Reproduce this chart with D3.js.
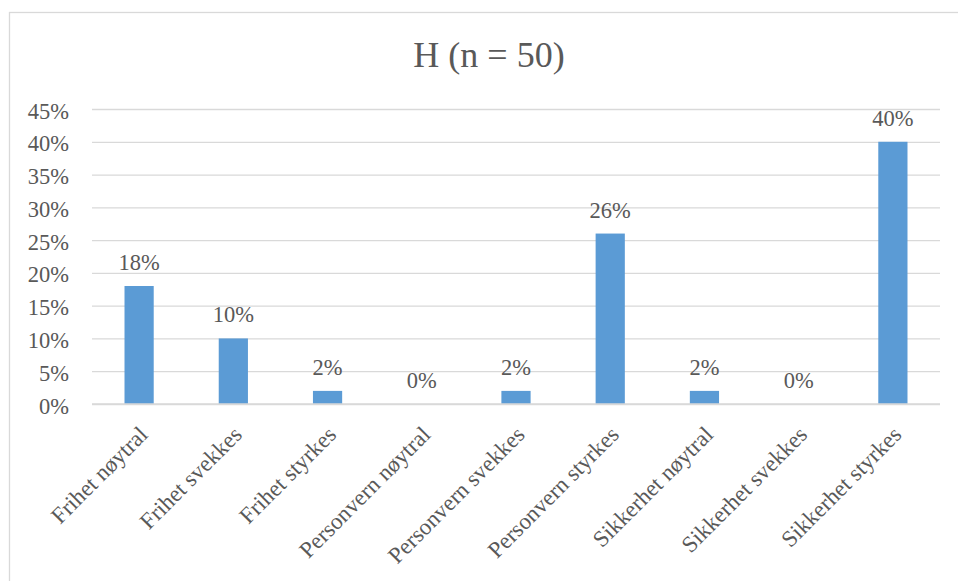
<!DOCTYPE html>
<html>
<head>
<meta charset="utf-8">
<script src="https://cdn.jsdelivr.net/npm/d3@7"></script>
<style>
  html, body { margin: 0; padding: 0; background: #fff; }
  svg { display: block; }
</style>
</head>
<body>
<script>
// Categories and their shares (percent) for group H
const categories = [
  "Frihet nøytral", "Frihet svekkes", "Frihet styrkes",
  "Personvern nøytral", "Personvern svekkes", "Personvern styrkes",
  "Sikkerhet nøytral", "Sikkerhet svekkes", "Sikkerhet styrkes"
];
const values = [18, 10, 2, 0, 2, 26, 2, 0, 40];
const yTicks = [0, 5, 10, 15, 20, 25, 30, 35, 40, 45];
const chartTitle = "H (n = 50)";

const W = 958, H = 581;
const margin = { left: 92, right: 18, top: 109, bottom: 177 };
const font = "'Liberation Serif', 'Times New Roman', serif";
const textColor = "#595959";
const gridColor = "#d9d9d9";
const barColor = "#5b9bd5";
const labelSize = 22.5;
const categorySize = 23;

const svg = d3.select("body").append("svg")
  .attr("width", W).attr("height", H);

// chart frame
svg.append("rect")
  .attr("x", 9.5).attr("y", 12.5)
  .attr("width", W + 20).attr("height", H + 20)
  .attr("fill", "#fff").attr("stroke", gridColor).attr("stroke-width", 1.3);

const x = d3.scaleBand()
  .domain(categories)
  .range([margin.left, W - margin.right])
  .paddingInner(0.69).paddingOuter(0.345);

const y = d3.scaleLinear()
  .domain([0, 45])
  .range([H - margin.bottom, margin.top]);

// title
svg.append("text")
  .attr("x", 489).attr("y", 67)
  .attr("text-anchor", "middle")
  .attr("font-family", font).attr("font-size", 36)
  .attr("fill", textColor)
  .text(chartTitle);

// gridlines and y labels
const yAxis = d3.axisLeft(y)
  .tickValues(yTicks)
  .tickFormat(d => d + "%")
  .tickSize(-(W - margin.right - margin.left))
  .tickPadding(23);

const gy = svg.append("g")
  .attr("transform", `translate(${margin.left},0)`)
  .call(yAxis);
gy.select(".domain").remove();
gy.selectAll(".tick line").attr("stroke", gridColor).attr("stroke-width", 1.3);
gy.selectAll(".tick text")
  .attr("font-family", font).attr("font-size", labelSize)
  .attr("dy", "0.4em")
  .attr("fill", textColor);

// bars
svg.append("g").selectAll("rect")
  .data(values)
  .join("rect")
  .attr("x", (d, i) => x(categories[i]))
  .attr("y", d => y(d))
  .attr("width", x.bandwidth())
  .attr("height", d => y(0) - y(d))
  .attr("fill", barColor);

// value labels
svg.append("g").selectAll("text")
  .data(values)
  .join("text")
  .attr("x", (d, i) => x(categories[i]) + x.bandwidth() / 2)
  .attr("y", d => y(d) - 16)
  .attr("text-anchor", "middle")
  .attr("font-family", font).attr("font-size", labelSize)
  .attr("fill", textColor)
  .text(d => d + "%");

// x axis baseline
svg.append("line")
  .attr("x1", margin.left).attr("x2", W - margin.right)
  .attr("y1", y(0)).attr("y2", y(0))
  .attr("stroke", gridColor).attr("stroke-width", 1.5);

// rotated category labels
const xAxis = d3.axisBottom(x).tickSize(0).tickPadding(0);
const gx = svg.append("g")
  .attr("transform", `translate(0,${y(0)})`)
  .call(xAxis);
gx.select(".domain").remove();
gx.selectAll(".tick text")
  .attr("font-family", font).attr("font-size", categorySize)
  .attr("fill", textColor)
  .attr("text-anchor", "end")
  .attr("dy", 0)
  .attr("transform", "translate(10,32) rotate(-45)");
</script>
</body>
</html>
